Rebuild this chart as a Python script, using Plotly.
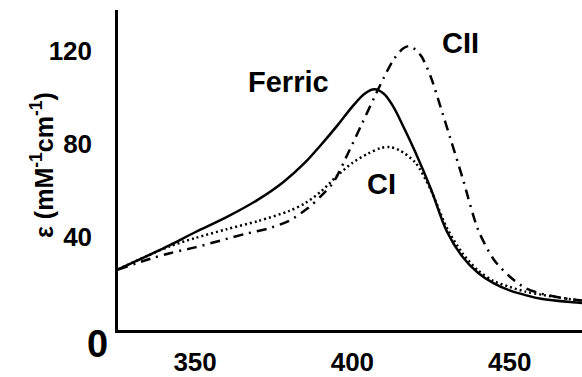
import plotly.graph_objects as go

# wavelength grids (nm) and extinction values (mM^-1 cm^-1)
wl_ferric = [325.5, 335, 342, 350, 360, 370, 378, 385, 390, 395, 400, 404, 407, 410, 413, 416, 420, 425, 430, 435, 440, 445, 450, 455, 460, 470, 473]
eps_ferric = [26, 32, 36.5, 42, 48.5, 56, 63.5, 72, 79.5, 87.5, 96, 101.6, 103.4, 101.5, 96, 88, 76.5, 60.5, 42.5, 31.5, 24.5, 20, 17, 15, 13.4, 11.9, 11.6]

wl_ci = [325.5, 335, 342, 350, 360, 370, 380, 385, 390, 395, 400, 405, 409, 412, 415, 420, 425, 430, 435, 440, 445, 450, 455, 460, 470, 473]
eps_ci = [26, 32, 36, 39.5, 43.3, 46.8, 51.2, 54.5, 59.5, 66, 71.8, 75.8, 78.2, 78.6, 77.2, 72, 60, 44, 33, 25.5, 21, 18.5, 16.5, 15.2, 13.1, 12.7]

wl_cii = [325.5, 336, 342, 350, 358, 366, 373, 380, 386, 390, 394, 399, 403, 407, 410, 413, 416, 418, 420, 422, 425, 428, 431, 435, 440, 445, 450, 455, 460, 470, 473]
eps_cii = [26, 30.7, 33, 35.5, 38.4, 41.3, 43.5, 47, 52.5, 57.5, 63.5, 77, 88.5, 100, 108.4, 116, 120.8, 122, 120.5, 117.5, 108.5, 96, 83, 65.5, 43, 30.2, 23, 18, 15.6, 13.1, 12.7]

x_ticks = [350, 400, 450]
y_ticks = [40, 80, 120]

FONT = "Liberation Sans, Arial, sans-serif"

fig = go.Figure()
fig.add_trace(go.Scatter(x=wl_ferric, y=eps_ferric, mode="lines",
                         line=dict(color="black", width=2.5, shape="spline", smoothing=1.0), showlegend=False))
fig.add_trace(go.Scatter(x=wl_ci, y=eps_ci, mode="lines",
                         line=dict(color="black", width=2.5, dash="2px,3px", shape="spline", smoothing=0.8), showlegend=False))
fig.add_trace(go.Scatter(x=wl_cii, y=eps_cii, mode="lines",
                         line=dict(color="black", width=2.5, dash="10px,6px,2px,6px", shape="spline", smoothing=0.8), showlegend=False))

fig.update_layout(
    width=582, height=377,
    margin=dict(l=118, r=0, t=10, b=36),
    plot_bgcolor="white", paper_bgcolor="white",
    font=dict(family=FONT, color="black"),
    xaxis=dict(range=[325.5, 473], tickvals=x_ticks, showgrid=False, zeroline=False,
               showline=True, linecolor="black", linewidth=2.5, ticks="",
               tickfont=dict(size=26, weight="bold", family=FONT), ticklabelstandoff=7),
    yaxis=dict(range=[0, 137.5], tickvals=y_ticks, showgrid=False, zeroline=False,
               showline=True, linecolor="black", linewidth=2.5, ticks="",
               tickfont=dict(size=26, weight="bold", family=FONT), ticklabelstandoff=18),
)

fig.add_annotation(text="ε (mM<sup>-1</sup>cm<sup>-1</sup>)", xref="paper", yref="y",
                   x=(42 - 118) / 464, y=(340.5 - 170) / 2.404, textangle=-90,
                   xanchor="center", yanchor="middle", showarrow=False,
                   font=dict(size=25, weight="bold", family=FONT))
fig.add_annotation(text="0", xref="paper", yref="y", x=(97 - 118) / 464, y=0, xanchor="center", yanchor="middle",
                   showarrow=False, font=dict(size=38, weight="bold", family=FONT), yshift=-14)
fig.add_annotation(text="Ferric", xref="x", yref="y", x=350 + (289 - 195) / 3.15, y=(340.5 - 84) / 2.404,
                   showarrow=False, font=dict(size=29, weight="bold", family=FONT))
fig.add_annotation(text="CII", xref="x", yref="y", x=350 + (461 - 195) / 3.15, y=(340.5 - 44) / 2.404,
                   showarrow=False, font=dict(size=29, weight="bold", family=FONT))
fig.add_annotation(text="CI", xref="x", yref="y", x=350 + (382 - 195) / 3.15, y=(340.5 - 190) / 2.404,
                   showarrow=False, font=dict(size=29, weight="bold", family=FONT))

fig.write_html("out.html")
